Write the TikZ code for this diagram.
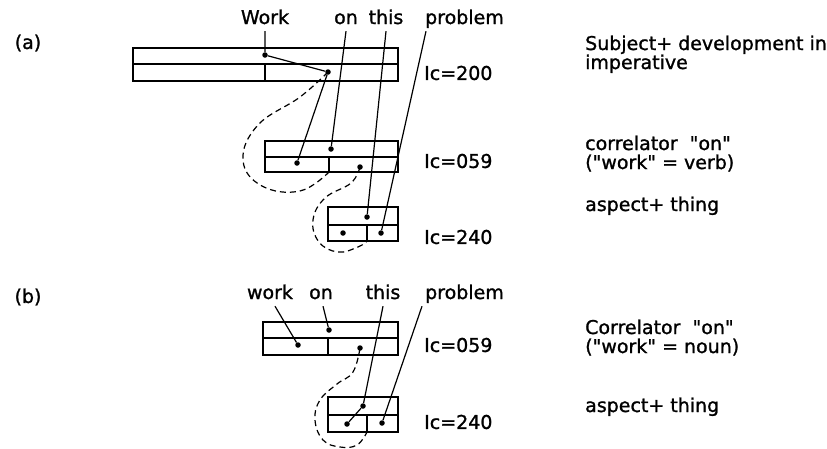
\documentclass[tikz,border=0pt]{standalone}
\usepackage{fontspec}
\setmainfont{DejaVu Sans}[Ligatures=TeXOff, FakeBold=1.2]
\usetikzlibrary{positioning}

\begin{document}
\begin{tikzpicture}[
    x=1pt, y=-1pt,
    font=\fontsize{19}{22}\selectfont,
    cellbox/.style={line width=1.8pt},
    dot/.style={circle, fill, inner sep=0pt, minimum size=5.5pt},
    link/.style={line width=1.2pt},
    dashloop/.style={line width=1.2pt, dash pattern=on 6pt off 4pt},
    word/.style={anchor=base, inner sep=0pt, text height=14pt, text depth=7pt},
    note/.style={anchor=base west, inner sep=0pt},
    iclabel/.style={anchor=west, inner sep=0pt}
]
\useasboundingbox (0,0) rectangle (827,448);

% (a) Work on this problem
\node (taga) at (28,43) {(a)};
\node[word] (worka) at (265,24) {Work};
\node[word] (ona) at (346,24) {on};
\node[word] (thisa) at (386,24) {this};
\node[word, anchor=base west] (proba) at (425,24) {problem};

% Boxes
\draw[cellbox] (133,48) rectangle (398,81);
\draw[cellbox] (133,64) -- (398,64) (265,64) -- (265,81);
\draw[cellbox] (265,141) rectangle (398,172);
\draw[cellbox] (265,157) -- (398,157) (329,157) -- (329,172);
\draw[cellbox] (328,207) rectangle (398,241);
\draw[cellbox] (328,225) -- (398,225) (367,225) -- (367,241);

% Dots
\node[dot] (w1) at (265,55) {};
\node[dot] (w2) at (328,72) {};
\node[dot] (m1) at (297,163) {};
\node[dot] (m2) at (331,149) {};
\node[dot] (m3) at (360,167) {};
\node[dot] (t1) at (367,217) {};
\node[dot] (t2) at (343,233) {};
\node[dot] (t3) at (381,233) {};

% Links
\draw[link] (worka.south) -- (w1) -- (w2) -- (m1);
\draw[link] (ona.south) -- (m2);
\draw[link] (thisa.south) -- (t1);
\draw[link] ([xshift=1pt]proba.south west) -- (t3);

% Scopes
\draw[dashloop] plot[smooth, tension=0.7] coordinates {(w2) (300,97) (258,125) (243,160) (262,186) (300,191) (329,172)};
\draw[dashloop] plot[smooth, tension=0.7] coordinates {(m3) (351,183) (325,198) (313,220) (319,242) (338,252) (358,247) (367,241)};

% Codes
\node[iclabel] (ica1) at (424,73) {Ic=200};
\node[iclabel] (ica2) at (424,161) {Ic=059};
\node[iclabel] (ica3) at (424,237) {Ic=240};

% Notes
\node[note] (nota1) at (585,50) {Subject+ development in};
\node[note] (nota2) at (585,69) {imperative};
\node[note] (nota3) at (585,150) {correlator \ "on"};
\node[note] (nota4) at (585,169) {("work" = verb)};
\node[note] (nota5) at (585,211) {aspect+ thing};

% (b) work on this problem
\node (tagb) at (28,297) {(b)};
\node[word] (workb) at (270,299) {work};
\node[word] (onb) at (321,299) {on};
\node[word] (thisb) at (383,299) {this};
\node[word, anchor=base west] (probb) at (425,299) {problem};

% Boxes
\draw[cellbox] (263,322) rectangle (398,355);
\draw[cellbox] (263,338) -- (398,338) (328,338) -- (328,355);
\draw[cellbox] (328,397) rectangle (398,432);
\draw[cellbox] (328,415) -- (398,415) (367,415) -- (367,432);

% Dots
\node[dot] (b1) at (298,345) {};
\node[dot] (b2) at (329,330) {};
\node[dot] (b3) at (360,348) {};
\node[dot] (c1) at (363,406) {};
\node[dot] (c2) at (347,424) {};
\node[dot] (c3) at (382,423) {};

% Links
\draw[link] ([xshift=5pt]workb.south) -- (b1);
\draw[link] ([xshift=2pt]onb.south) -- (b2);
\draw[link] (thisb.south) -- (c1) -- (c2);
\draw[link] ([xshift=-3pt]probb.south west) -- (c3);

% Scope
\draw[dashloop] plot[smooth, tension=0.7] coordinates {(b3) (353,372) (337,384) (320,400) (315,420) (323,440) (340,447) (357,445) (367,432)};

% Codes
\node[iclabel] (icb1) at (424,345) {Ic=059};
\node[iclabel] (icb2) at (424,422) {Ic=240};

% Notes
\node[note] (notb1) at (585,334) {Correlator \ "on"};
\node[note] (notb2) at (585,353) {("work" = noun)};
\node[note] (notb3) at (585,412) {aspect+ thing};

\end{tikzpicture}
\end{document}
